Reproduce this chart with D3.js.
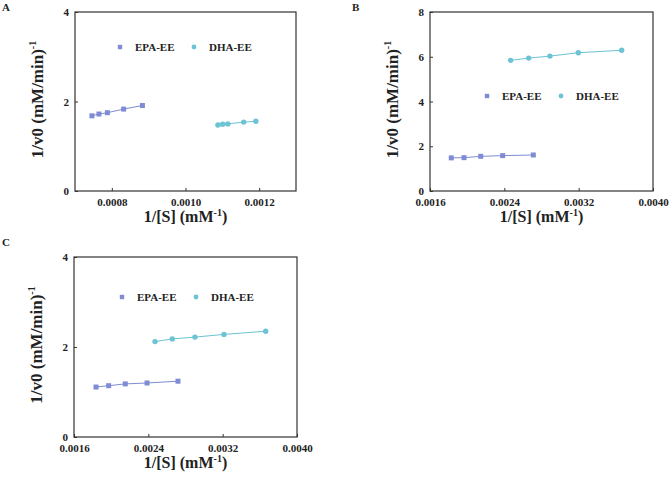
<!DOCTYPE html>
<html>
<head>
  <meta charset="utf-8">
  <title>Lineweaver-Burk</title>
  <script src="https://cdn.jsdelivr.net/npm/d3@7"></script>
  <style>
    body { margin: 0; background: #fff; }
    text { font-family: "Liberation Serif", "Times New Roman", serif; font-weight: bold; fill: #222; }
  </style>
</head>
<body>
  <svg width="669" height="478" id="mainsvg"></svg>
  <script>
    const svg = d3.select('#mainsvg');
    const epaColor = '#7f8cd3';
    const dhaColor = '#6cc3d4';

    // panel A
    const aEpaX = [0.000746, 0.000765, 0.000788, 0.000832, 0.000883];
    const aEpaY = [1.68, 1.72, 1.75, 1.83, 1.91];
    const aDhaX = [0.001088, 0.001101, 0.001115, 0.001158, 0.001191];
    const aDhaY = [1.475, 1.49, 1.50, 1.54, 1.56];
    const aXTicks = [0.0008, 0.0010, 0.0012];
    const aYTicks = [0, 2, 4];

    // panel B
    const bEpaX = [0.001829, 0.001966, 0.002146, 0.002382, 0.002712];
    const bEpaY = [1.48, 1.49, 1.55, 1.58, 1.61];
    const bDhaX = [0.002468, 0.002662, 0.002891, 0.003196, 0.003663];
    const bDhaY = [5.84, 5.94, 6.03, 6.18, 6.29];
    const bXTicks = [0.0016, 0.0024, 0.0032, 0.0040];
    const bYTicks = [0, 2, 4, 6, 8];

    // panel C
    const cEpaX = [0.001837, 0.001973, 0.002152, 0.002386, 0.002719];
    const cEpaY = [1.11, 1.14, 1.18, 1.20, 1.24];
    const cDhaX = [0.002472, 0.002658, 0.002902, 0.003214, 0.003663];
    const cDhaY = [2.12, 2.18, 2.22, 2.28, 2.35];
    const cXTicks = [0.0016, 0.0024, 0.0032, 0.0040];
    const cYTicks = [0, 2, 4];

    const seriesNames = ['EPA-EE', 'DHA-EE'];

    function panel(opt) {
      const g = svg.append('g');
      const x = d3.scaleLinear().domain(opt.xDomain).range([opt.left, opt.right]);
      const y = d3.scaleLinear().domain(opt.yDomain).range([opt.bottom, opt.top]);

      // 坐标轴 (刻度向内)
      g.append('g').attr('transform', `translate(0,${opt.bottom})`)
        .call(d3.axisBottom(x).tickValues(opt.xTicks).tickSize(-3).tickPadding(7).tickFormat(d3.format('.4f')))
        .call(a => a.select('.domain').remove());
      g.append('g').attr('transform', `translate(${opt.left},0)`)
        .call(d3.axisLeft(y).tickValues(opt.yTicks).tickSize(-3).tickPadding(6).tickFormat(d3.format('d')))
        .call(a => a.select('.domain').remove());
      g.selectAll('.tick text').attr('font-size', 11).attr('font-family', '"Liberation Serif", serif').attr('font-weight', 'bold').attr('fill', '#222');
      g.selectAll('.tick line').attr('stroke', '#333');

      g.append('rect')
        .attr('x', opt.left).attr('y', opt.top)
        .attr('width', opt.right - opt.left).attr('height', opt.bottom - opt.top)
        .attr('fill', 'none').attr('stroke', '#333').attr('stroke-width', 1.2);

      const line = d3.line().x(d => x(d[0])).y(d => y(d[1]));
      const epa = opt.epaX.map((v, i) => [v, opt.epaY[i]]);
      const dha = opt.dhaX.map((v, i) => [v, opt.dhaY[i]]);

      g.append('path').datum(epa).attr('d', line)
        .attr('fill', 'none').attr('stroke', epaColor).attr('stroke-width', 1);
      g.append('path').datum(dha).attr('d', line)
        .attr('fill', 'none').attr('stroke', dhaColor).attr('stroke-width', 1);

      g.selectAll('.sq').data(epa).join('rect').attr('class', 'sq')
        .attr('x', d => x(d[0]) - 2.5).attr('y', d => y(d[1]) - 2.5)
        .attr('width', 5).attr('height', 5).attr('fill', epaColor);
      g.selectAll('.ci').data(dha).join('circle').attr('class', 'ci')
        .attr('cx', d => x(d[0])).attr('cy', d => y(d[1])).attr('r', 2.7)
        .attr('fill', dhaColor);

      // 图例
      const lx = opt.left + opt.legDx, ly = opt.top + opt.legDy;
      g.append('rect').attr('x', lx - 2.2).attr('y', ly - 2.2).attr('width', 4.4).attr('height', 4.4).attr('fill', epaColor);
      g.append('text').attr('x', lx + 15).attr('y', ly + 4).attr('font-size', 11).text(seriesNames[0]);
      g.append('circle').attr('cx', lx + 74).attr('cy', ly).attr('r', 2.4).attr('fill', dhaColor);
      g.append('text').attr('x', lx + 89).attr('y', ly + 4).attr('font-size', 11).text(seriesNames[1]);

      // 轴标题
      const xt = g.append('text').attr('x', (opt.left + opt.right) / 2).attr('y', opt.bottom + 31)
        .attr('text-anchor', 'middle').attr('font-size', 16);
      xt.append('tspan').text('1/[S] (mM');
      xt.append('tspan').attr('font-size', 10).attr('dy', -6).text('-1');
      xt.append('tspan').attr('dy', 6).text(')');

      const yt = g.append('text')
        .attr('transform', `translate(${opt.left - 32},${(opt.top + opt.bottom) / 2 - 2}) rotate(-90)`)
        .attr('text-anchor', 'middle').attr('font-size', 17);
      yt.append('tspan').text('1/v0 (mM/min)');
      yt.append('tspan').attr('font-size', 10).attr('dy', -7).text('-1');

      g.append('text').attr('x', opt.labelX).attr('y', opt.labelY).attr('font-size', 11).text(opt.label);
    }

    panel({ label: 'A', labelX: 2, labelY: 11, left: 75, right: 296, top: 12, bottom: 191,
      xDomain: [0.0007, 0.0013], yDomain: [0, 4], xTicks: aXTicks, yTicks: aYTicks,
      epaX: aEpaX, epaY: aEpaY, dhaX: aDhaX, dhaY: aDhaY, legDx: 45, legDy: 35 });
    panel({ label: 'B', labelX: 352, labelY: 11, left: 430, right: 653, top: 12, bottom: 191,
      xDomain: [0.0016, 0.0040], yDomain: [0, 8], xTicks: bXTicks, yTicks: bYTicks,
      epaX: bEpaX, epaY: bEpaY, dhaX: bDhaX, dhaY: bDhaY, legDx: 57, legDy: 84 });
    panel({ label: 'C', labelX: 2, labelY: 246, left: 74, right: 297, top: 257, bottom: 437,
      xDomain: [0.0016, 0.0040], yDomain: [0, 4], xTicks: cXTicks, yTicks: cYTicks,
      epaX: cEpaX, epaY: cEpaY, dhaX: cDhaX, dhaY: cDhaY, legDx: 48, legDy: 40 });
  </script>
</body>
</html>
